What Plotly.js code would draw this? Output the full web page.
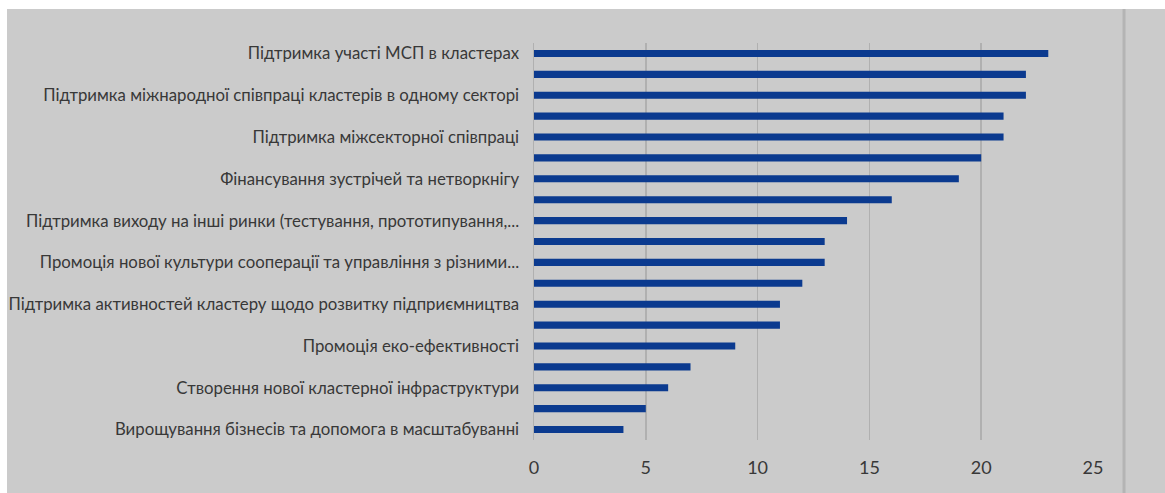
<!DOCTYPE html>
<html>
<head>
<meta charset="utf-8">
<script src="https://cdn.plot.ly/plotly-3.0.1.min.js"></script>
<style>
  html, body { margin: 0; padding: 0; background: #ffffff; overflow: hidden; }
  #chart { position: absolute; left: 7px; top: 9px; width: 1158px; height: 484px; }
</style>
</head>
<body>
<div id="chart"></div>
<script>
// Values from top to bottom (19 bars)
const values = [23, 22, 22, 21, 21, 20, 19, 16, 14, 13, 13, 12, 11, 11, 9, 7, 6, 5, 4];
// Row positions (0 = top row)
const rows = [0, 1, 2, 3, 4, 5, 6, 7, 8, 9, 10, 11, 12, 13, 14, 15, 16, 17, 18];
// Visible labels (every other row)
const labelRows = [0, 2, 4, 6, 8, 10, 12, 14, 16, 18];
const labels = [
  "Підтримка участі МСП в кластерах",
  "Підтримка міжнародної співпраці кластерів в одному секторі",
  "Підтримка міжсекторної співпраці",
  "Фінансування зустрічей та нетворкнігу",
  "Підтримка виходу на інші ринки (тестування, прототипування,...",
  "Промоція нової культури сооперації та управління з різними...",
  "Підтримка активностей кластеру щодо розвитку підприємництва",
  "Промоція еко-ефективності",
  "Створення нової кластерної інфраструктури",
  "Вирощування бізнесів та допомога в масштабуванні"
];
const xTicks = [0, 5, 10, 15, 20, 25];

const fontFam = "Lato, Roboto, 'Liberation Sans', sans-serif";

const trace = {
  type: 'bar',
  orientation: 'h',
  x: values,
  y: rows,
  marker: { color: '#0b3a8f', line: { width: 0 } },
  width: 0.34,
  hoverinfo: 'x'
};

const layout = {
  width: 1158,
  height: 484,
  margin: { l: 527, r: 72, t: 34, b: 53 },
  paper_bgcolor: '#cbcbcb',
  plot_bgcolor: '#cbcbcb',
  showlegend: false,
  font: { family: fontFam, color: '#383838' },
  xaxis: {
    range: [0, 25],
    tickvals: xTicks,
    ticktext: xTicks.map(String),
    showgrid: true,
    gridcolor: '#b0b0b0',
    gridwidth: 1.5,
    zeroline: false,
    showline: false,
    ticks: '',
    ticklabelstandoff: 15,
    tickfont: { size: 18, family: fontFam, color: '#383838' },
    fixedrange: true
  },
  yaxis: {
    range: [18.5, -0.5],
    tickvals: labelRows,
    ticktext: labels,
    showgrid: false,
    zeroline: false,
    showline: true,
    linecolor: '#b0b0b0',
    linewidth: 1.5,
    ticks: '',
    ticklabelstandoff: 10,
    tickfont: { size: 16.8, family: fontFam, color: '#383838' },
    fixedrange: true
  },
  shapes: [
    {
      type: 'line', xref: 'paper', yref: 'paper',
      x0: 1.0555, x1: 1.0555, y0: -0.2, y1: 1.2,
      line: { color: '#b4b4b4', width: 3 }
    }
  ]
};

Plotly.newPlot('chart', [trace], layout, { displayModeBar: false, staticPlot: true });
</script>
</body>
</html>
